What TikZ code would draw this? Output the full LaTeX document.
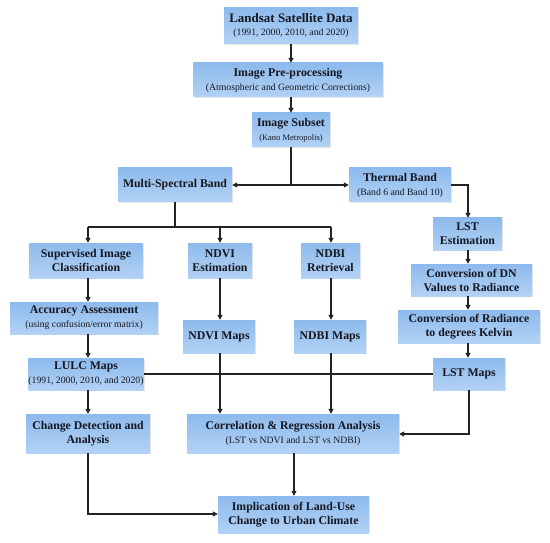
\documentclass[tikz,border=0pt]{standalone}
\usepackage{fontspec}
\setmainfont{Liberation Serif}
\usetikzlibrary{arrows.meta,shadows,calc}
\definecolor{boxtop}{RGB}{141,186,236}
\definecolor{boxbot}{RGB}{178,210,245}
\definecolor{textc}{RGB}{22,22,32}
\definecolor{linec}{RGB}{35,35,35}
\newcommand\subf{\normalfont\fontsize{9.7}{12.5}\selectfont}
\begin{document}
\begin{tikzpicture}[x=1pt,y=-1pt,
  box/.style={draw=none, top color=boxtop, bottom color=boxbot, inner sep=0pt,
    align=center, text=textc, font=\bfseries\fontsize{11.8}{14}\selectfont,
    drop shadow={opacity=0.18, shadow xshift=1pt, shadow yshift=-1pt}},
  conn/.style={draw=linec, line width=1.2pt},
  arr/.style={conn, -{Triangle[length=5pt,width=5pt]}}]
\useasboundingbox (0,0) rectangle (550,543);
% nodes
\node[box, minimum width=134pt, minimum height=36pt, font=\bfseries\fontsize{13}{13}\selectfont] (landsat) at (291,26) {Landsat Satellite Data\\\subf (1991, 2000, 2010, and 2020)};
\node[box, minimum width=189pt, minimum height=34pt] (prep) at (288,80) {Image Pre-processing\\\subf (Atmospheric and Geometric Corrections)};
\node[box, minimum width=78pt, minimum height=34pt] (subset) at (291,130) {Image Subset\\\normalfont\fontsize{8.5}{12}\selectfont (Kano Metropolis)};
\node[box, minimum width=114pt, minimum height=34pt] (multi) at (175,185) {Multi-Spectral Band};
\node[box, minimum width=102pt, minimum height=34pt] (thermal) at (400,185) {Thermal Band\\\subf (Band 6 and Band 10)};
\node[box, minimum width=113pt, minimum height=35pt] (superv) at (86,260.5) {Supervised Image\\Classification};
\node[box, minimum width=64pt, minimum height=35pt] (ndviest) at (220,260.5) {NDVI\\Estimation};
\node[box, minimum width=59pt, minimum height=35pt] (ndbiret) at (330.5,260.5) {NDBI\\Retrieval};
\node[box, minimum width=69pt, minimum height=32pt] (lstest) at (467.5,234) {LST\\Estimation};
\node[box, minimum width=121pt, minimum height=32pt] (dn) at (471.5,280) {Conversion of DN\\Values to Radiance};
\node[box, minimum width=142pt, minimum height=33pt] (kelvin) at (469,326.5) {Conversion of Radiance\\to degrees Kelvin};
\node[box, minimum width=148pt, minimum height=32pt] (accuracy) at (84,318) {Accuracy Assessment\\\subf (using confusion/error matrix)};
\node[box, minimum width=72pt, minimum height=33pt] (ndvimaps) at (219,336.5) {NDVI Maps};
\node[box, minimum width=72pt, minimum height=33pt] (ndbimaps) at (330,336.5) {NDBI Maps};
\node[box, minimum width=113pt, minimum height=32pt] (lulc) at (86,374) {LULC Maps\\\subf (1991, 2000, 2010, and 2020)};
\node[box, minimum width=72pt, minimum height=32pt] (lstmaps) at (469,374) {LST Maps};
\node[box, minimum width=124pt, minimum height=39pt] (change) at (88,433.5) {Change Detection and\\Analysis};
\node[box, minimum width=212pt, minimum height=39pt] (corr) at (293,433.5) {Correlation \& Regression Analysis\\\subf (LST vs NDVI and LST vs NDBI)};
\node[box, minimum width=151pt, minimum height=37pt] (impl) at (293.5,514.5) {Implication of Land-Use\\Change to Urban Climate};
% helper coordinates
\coordinate (colA) at (88,0);
\coordinate (colS) at (291,0);
\coordinate (colL) at (468,0);
\coordinate (colC) at (294,0);
\coordinate (j1) at (291,185);
\coordinate (j2) at (175,227);
\coordinate (j2l) at (88,227);
\coordinate (j2r) at (331,227);
\coordinate (tcorner) at (468,185);
\coordinate (lcorner) at (469,434);
\coordinate (ccorner) at (88,514);
% connectors
\draw[arr] (landsat.south -| colS) -- (prep.north -| colS);
\draw[arr] (prep.south -| colS) -- (subset.north -| colS);
\draw[conn] (subset.south -| colS) -- (j1);
\draw[arr] (j1) -- (multi.east);
\draw[arr] (j1) -- (thermal.west);
\draw[conn] (multi.south) -- (j2);
\draw[conn] (j2l) -- (j2r);
\draw[arr] (j2l) -- (superv.north -| j2l);
\draw[arr] (j2 -| ndviest) -- (ndviest.north);
\draw[arr] (j2r) -- (ndbiret.north -| j2r);
\draw[arr] (thermal.east) -- (tcorner) -- (lstest.north -| tcorner);
\draw[arr] (lstest.south -| colL) -- (dn.north -| colL);
\draw[arr] (dn.south -| colL) -- (kelvin.north -| colL);
\draw[arr] (kelvin.south -| colL) -- (lstmaps.north -| colL);
\draw[arr] (superv.south -| colA) -- (accuracy.north -| colA);
\draw[arr] (accuracy.south -| colA) -- (lulc.north -| colA);
\draw[arr] (lulc.south -| colA) -- (change.north -| colA);
\draw[arr] (ndviest.south) -- (ndvimaps.north -| ndviest);
\draw[arr] (ndbiret.south -| j2r) -- (ndbimaps.north -| j2r);
\draw[conn] (lulc.east) -- (lstmaps.west);
\draw[arr] (ndvimaps.south -| ndviest) -- (corr.north -| ndviest);
\draw[arr] (ndbimaps.south -| j2r) -- (corr.north -| j2r);
\draw[arr] (lstmaps.south) -- (lcorner) -- (corr.east |- lcorner);
\draw[arr] (corr.south -| colC) -- (impl.north -| colC);
\draw[arr] (change.south -| colA) -- (ccorner) -- (impl.west |- ccorner);
\end{tikzpicture}
\end{document}
